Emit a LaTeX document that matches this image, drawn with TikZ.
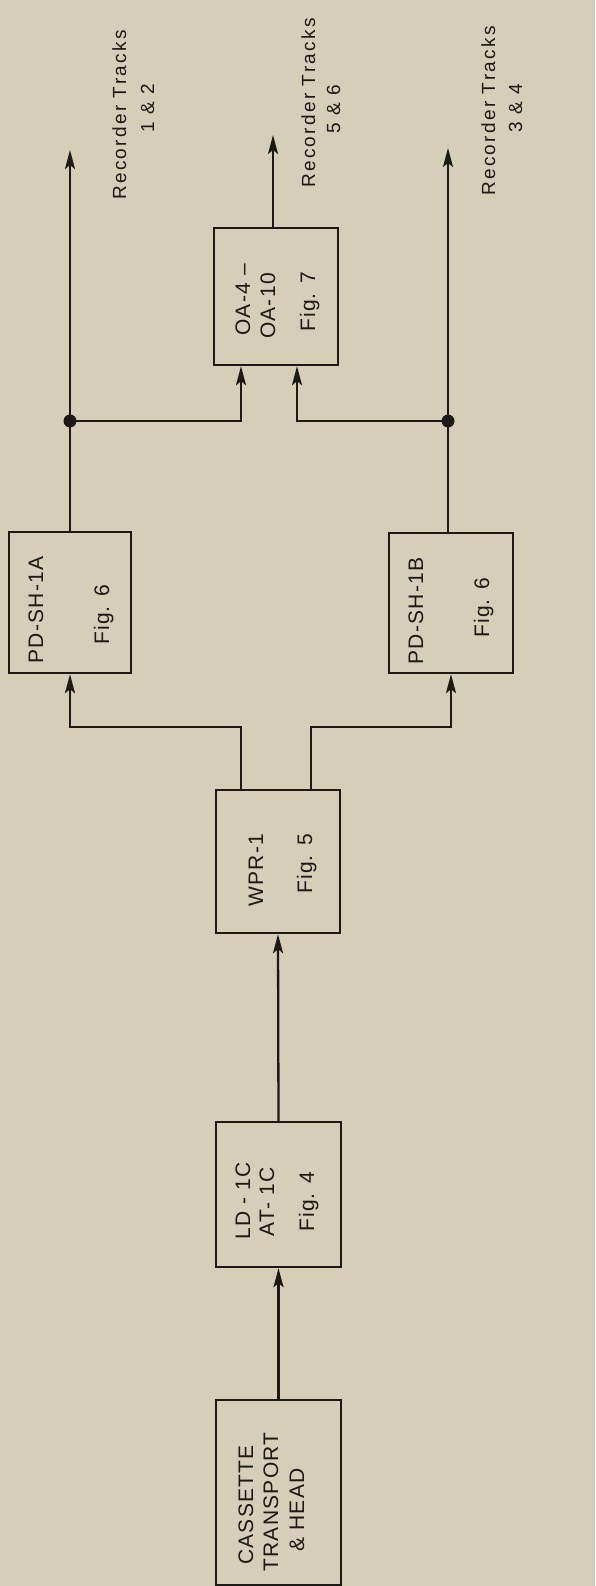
\documentclass[tikz,border=0pt]{standalone}
\usepackage{fontspec}
\setmainfont{Liberation Sans}
\newfontfamily\boxfont[LetterSpace=6]{Liberation Sans}
\newfontfamily\labfont[LetterSpace=12]{Liberation Sans}
\usetikzlibrary{arrows.meta}
\definecolor{paper}{RGB}{214,206,185}
\definecolor{ink}{RGB}{28,25,22}
\begin{document}
\begin{tikzpicture}[x=1pt,y=-1pt,
  blk/.style={draw=ink,line width=2.4pt,rectangle,inner sep=0pt},
  conn/.style={draw=ink,line width=2.3pt},
  arr/.style={conn,-{Stealth[length=19pt,width=10pt,inset=4pt]}},
  jdot/.style={circle,fill=ink,inner sep=0pt,minimum size=13pt},
  btxt/.style={rotate=90,anchor=base,inner sep=0pt,text=ink,font=\boxfont\fontsize{21}{25}\selectfont},
  ltxt/.style={rotate=90,anchor=base,inner sep=0pt,text=ink,font=\labfont\fontsize{19}{23}\selectfont}]
\fill[paper] (0,0) rectangle (595,1586);
\useasboundingbox (0,0) rectangle (595,1586);

% boxes
\node[blk,minimum width=125pt,minimum height=185pt] (cas) at (278.5,1492.5) {};
\node[blk,minimum width=125pt,minimum height=145pt] (ld) at (278.5,1194.5) {};
\node[blk,minimum width=124pt,minimum height=143pt] (wpr) at (278,861.5) {};
\node[blk,minimum width=122pt,minimum height=141pt] (pda) at (70,602.5) {};
\node[blk,minimum width=124pt,minimum height=140pt] (pdb) at (451,603) {};
\node[blk,minimum width=124pt,minimum height=137pt] (oa) at (276,296.5) {};

% texts
\node[btxt] (t1) at (253,1505) {CASSETTE};
\node[btxt] (t2) at (278,1502) {TRANSPORT};
\node[btxt] (t3) at (304,1510) {\& HEAD};
\node[btxt] (t4) at (250,1201) {LD - 1C};
\node[btxt] (t5) at (274,1202) {AT- 1C};
\node[btxt] (t6) at (314,1202) {Fig. 4};
\node[btxt] (t7) at (263,870) {WPR-1};
\node[btxt] (t8) at (312,864) {Fig. 5};
\node[btxt] (t9) at (43,610) {PD-SH-1A};
\node[btxt] (t10) at (109,615) {Fig. 6};
\node[btxt] (t11) at (423,611) {PD-SH-1B};
\node[btxt] (t12) at (489,608) {Fig. 6};
\node[btxt] (t13) at (250,300) {OA-4 –};
\node[btxt] (t14) at (275,306) {OA-10};
\node[btxt] (t15) at (315,302) {Fig. 7};
\node[ltxt] (r1) at (126,115) {Recorder Tracks};
\node[ltxt] (r1b) at (154,108) {1 \& 2};
\node[ltxt] (r2) at (315,103) {Recorder Tracks};
\node[ltxt] (r2b) at (340,109) {5 \& 6};
\node[ltxt] (r3) at (495,111) {Recorder Tracks};
\node[ltxt] (r3b) at (522,108) {3 \& 4};

% coordinates
\coordinate (ka) at (241,727);
\coordinate (kb) at (311,727);
\coordinate (oaa) at (241,0);
\coordinate (oab) at (297,0);
\coordinate (ja) at (70,421);
\coordinate (jb) at (448,421);
\coordinate (outa) at (70,150);
\coordinate (outb) at (448,148);
\coordinate (outc) at (273,135);

% connectors
\draw[arr] (cas.north) -- (ld.south);
\draw[arr] (ld.north) -- (wpr.south);
\draw[arr] (wpr.north -| ka) -- (ka) -| (pda.south);
\draw[arr] (wpr.north -| kb) -- (kb) -| (pdb.south);
\draw[conn] (pda.north) -- (ja);
\draw[conn] (pdb.north -| jb) -- (jb);
\draw[arr] (ja) -- (outa);
\draw[arr] (jb) -- (outb);
\draw[arr] (ja) -| (oa.south -| oaa);
\draw[arr] (jb) -| (oa.south -| oab);
\draw[arr] (oa.north -| outc) -- (outc);
\node[jdot] (da) at (ja) {};
\node[jdot] (db) at (jb) {};
\end{tikzpicture}
\end{document}
